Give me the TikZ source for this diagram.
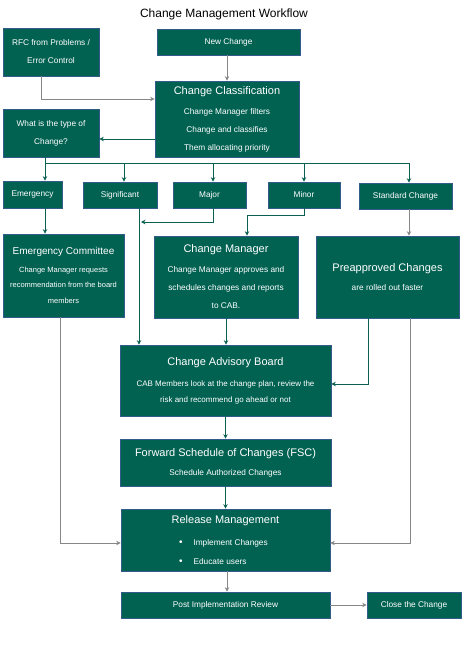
\documentclass[tikz,border=0pt]{standalone}
\usepackage{fontspec}
\setmainfont{Liberation Sans}
\usetikzlibrary{arrows.meta}
\definecolor{boxfill}{RGB}{2,98,82}
\definecolor{boxline}{RGB}{52,92,138}
\definecolor{tealline}{RGB}{10,97,82}
\definecolor{greyline}{RGB}{135,135,135}
\newcommand{\hdr}[1]{{\fontsize{11}{13}\selectfont #1}}
\tikzset{
  box/.style={draw=boxline, fill=boxfill, text=white, inner sep=0pt, line width=0.7pt, align=center, anchor=center},
  body/.style={font=\fontsize{8.3}{18}\selectfont},
  tarrow/.style={draw=tealline, line width=0.9pt, -{Stealth[length=4.5pt,width=4.5pt]}},
  garrow/.style={draw=greyline, line width=0.9pt, -{Stealth[length=4.5pt,width=4.5pt]}},
  tline/.style={draw=tealline, line width=0.9pt},
}
\begin{document}
\begin{tikzpicture}[x=1pt,y=-1pt]
\useasboundingbox (0,0) rectangle (464,648);
\node[font=\fontsize{12}{14}\selectfont] (title) at (224,14) {Change Management Workflow};

\node[box, body, minimum width=96pt, minimum height=48pt] (rfc) at (51,52) {RFC from Problems /\\Error Control};
\node[box, body, minimum width=143pt, minimum height=26pt] (newc) at (228.5,42) {New Change};
\node[box, body, minimum width=144pt, minimum height=76pt] (cls) at (227,119) {\hdr{Change Classification}\\[2pt]Change Manager filters\\Change and classifies\\Them allocating priority};
\node[box, body, minimum width=96pt, minimum height=48pt] (type) at (51,133) {What is the type of\\Change?};

\node[box, body, minimum width=59pt, minimum height=27pt] (emg) at (32.5,194.5) {Emergency};
\node[box, body, minimum width=74pt, minimum height=26pt] (sig) at (120,195) {Significant};
\node[box, body, minimum width=73pt, minimum height=26pt] (maj) at (209.5,195) {Major};
\node[box, body, minimum width=72pt, minimum height=26pt] (mnr) at (304,195) {Minor};
\node[box, body, minimum width=93pt, minimum height=26pt] (std) at (405.5,196) {Standard Change};

\node[box, font=\fontsize{7.5}{15.5}\selectfont, minimum width=121pt, minimum height=83pt] (ec) at (63.5,275.5) {{\fontsize{10}{12}\selectfont Emergency Committee}\\[2pt]Change Manager requests\\recommendation from the board\\members};
\node[box, body, minimum width=144pt, minimum height=82pt] (cm) at (226,277) {\hdr{Change Manager}\\[2pt]Change Manager approves and\\schedules changes and reports\\to CAB.};
\node[box, body, minimum width=143pt, minimum height=82pt] (pre) at (387.5,277) {\hdr{Preapproved Changes}\\[1pt]are rolled out faster};

\node[box, font=\fontsize{8}{16}\selectfont, minimum width=211pt, minimum height=71pt] (cab) at (225.5,380.5) {\hdr{Change Advisory Board}\\[5pt]CAB Members look at the change plan, review the\\risk and recommend go ahead or not};
\node[box, body, minimum width=211pt, minimum height=47pt] (fsc) at (225.5,462.5) {\hdr{Forward Schedule of Changes (FSC)}\\[1pt]Schedule Authorized Changes};
\node[box, font=\fontsize{8.3}{19}\selectfont, minimum width=209pt, minimum height=62pt] (rel) at (225.5,540) {\hdr{Release Management}\\[3pt]\makebox[93pt][l]{{\fontsize{10}{10}\selectfont\textbullet}\hspace{11pt}Implement Changes}\\\makebox[93pt][l]{{\fontsize{10}{10}\selectfont\textbullet}\hspace{11pt}Educate users}};
\node[box, body, minimum width=209pt, minimum height=26pt] (pir) at (225.5,605) {Post Implementation Review};
\node[box, body, minimum width=94pt, minimum height=26pt] (close) at (414,605) {Close the Change};

\coordinate (bus0) at (45,163);
\coordinate (bus1) at (409,163);
\coordinate (sigx) at (139,222);

% top part
\draw[garrow] ([xshift=-10pt]rfc.south) |- ([yshift=20pt]cls.west);
\draw[garrow] (newc.south -| cls.north) -- (cls.north);
\draw[tarrow] ([yshift=-20pt]cls.west) -- ([yshift=-20pt]cls.west -| type.east);

% bus
\draw[tarrow] (type.south -| bus0) -- (emg.north -| bus0);
\draw[tline] (bus0) -- (bus1);
\draw[tarrow] ([xshift=4pt]sig.north |- bus0) -- ([xshift=4pt]sig.north);
\draw[tarrow] ([xshift=3.5pt]maj.north |- bus0) -- ([xshift=3.5pt]maj.north);
\draw[tarrow] (mnr.north |- bus0) -- (mnr.north);
\draw[tarrow] ([xshift=3.5pt]std.north |- bus0) -- ([xshift=3.5pt]std.north);

% second row
\draw[tarrow] (emg.south -| bus0) -- (ec.north -| bus0);
\draw[tarrow] (sig.south -| sigx) -- (cab.north -| sigx);
\draw[tarrow] ([xshift=3.5pt]maj.south) |- ([xshift=2pt]sigx);
\draw[tarrow] (mnr.south) -- ++(0,7) -| ([xshift=21pt]cm.north);
\draw[garrow] ([xshift=3.5pt]std.south) -- ([xshift=3.5pt]std.south |- pre.north);

% to CAB
\draw[tarrow] (cm.south) -- (cab.north -| cm.south);
\draw[tarrow] ([xshift=-19.5pt]pre.south) |- ([yshift=-3.5pt]cab.east);

% to release
\draw[garrow] ([xshift=22.5pt]pre.south) |- ([yshift=-3pt]rel.east);
\draw[garrow] ([xshift=-3.5pt]ec.south) |- ([yshift=-3pt]rel.west);
\draw[tarrow] (cab.south) -- (fsc.north);
\draw[tarrow] (fsc.south) -- (rel.north);
\draw[garrow] ([xshift=1.5pt]rel.south) -- ([xshift=1.5pt]pir.north);
\draw[garrow] (pir.east) -- (close.west);
\end{tikzpicture}
\end{document}
